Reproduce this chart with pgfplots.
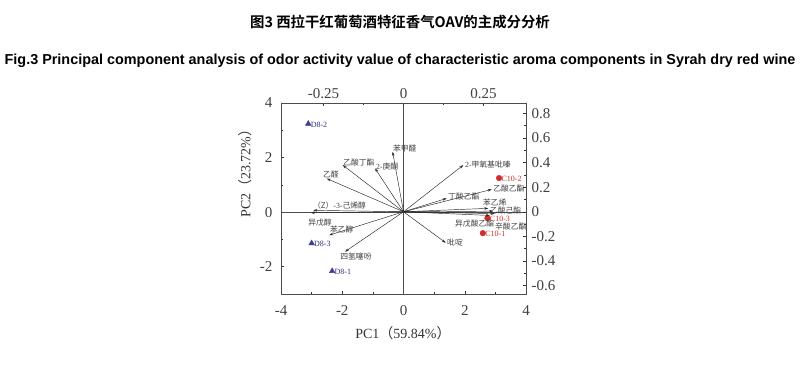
\documentclass[border=0pt]{standalone}
\usepackage{fontspec}
\setmainfont{Liberation Serif}
\newfontfamily\cjk{Noto Sans CJK SC}[BoldFont={Noto Sans CJK SC Bold}]
\newfontfamily\titlesans{Liberation Sans}
\usepackage{pgfplots}
\usepackage{pgfplotstable}
\pgfplotsset{compat=1.18}
\usetikzlibrary{arrows.meta}
\definecolor{tri}{HTML}{3C3C96}
\definecolor{dot}{HTML}{D42A2A}
\pgfplotstableread{
lx ly
-0.034 0.488
-0.089 0.353
-0.190 0.380
-0.240 0.270
-0.282 0.012
-0.290 -0.008
-0.232 -0.190
-0.183 -0.325
0.132 -0.252
0.187 0.380
0.276 0.182
0.135 0.109
0.265 0.028
0.280 0.005
0.285 -0.015
0.270 -0.030
}\loadings
\pgfplotstableread{
x y label
-3.11 3.24 D8-2
-3.00 -1.14 D8-3
-2.33 -2.16 D8-1
}\dgroup
\pgfplotstableread{
x y label
3.12 1.25 C10-2
2.74 -0.22 C10-3
2.59 -0.77 C10-1
}\cgroup
\begin{document}
\begin{tikzpicture}[x=1pt,y=1pt]
\useasboundingbox (0,0) rectangle (800,364);
\fill[white] (0,0) rectangle (800,364);
\node[font=\cjk\bfseries\fontsize{14.4}{16}\selectfont] at (400,342) {图3 西拉干红葡萄酒特征香气OAV的主成分分析};
\node[font=\titlesans\bfseries\fontsize{14.4}{16}\selectfont] at (400,303) {Fig.3 Principal component analysis of odor activity value of characteristic aroma components in Syrah dry red wine};
\begin{axis}[
  at={(281pt,70pt)}, anchor=south west,
  scale only axis, width=245pt, height=191pt,
  xmin=-4, xmax=4, ymin=-3, ymax=4,
  xtick={-4,-2,0,2,4}, xticklabels={-4,-2,0,2,4},
  minor xtick={-3,-1,1,3},
  ytick={-2,0,2,4}, yticklabels={-2,0,2,4},
  minor ytick={-3,-1,1,3},
  xtick pos=bottom, ytick pos=left,
  tick align=inside, major tick length=3pt, minor tick length=2pt,
  tick style={black!80, line width=0.5pt},
  axis line style={black!70, line width=0.6pt},
  ticklabel style={font=\fontsize{15}{17}\selectfont, text=black!75},
  xticklabel style={yshift=-8pt},
  yticklabel style={xshift=-5pt},
  clip=false,
]
\draw[black!70, line width=0.6pt] (axis cs:-4,0) -- (axis cs:4,0);
\draw[black!70, line width=0.6pt] (axis cs:0,-3) -- (axis cs:0,4);
\addplot[only marks, mark=triangle*, mark size=3.2pt, color=tri,
  nodes near coords, point meta=explicit symbolic,
  every node near coord/.style={anchor=west, font=\fontsize{8}{9}\selectfont, text=tri!80!black, xshift=-1pt, yshift=-1pt}]
  table[meta=label] {\dgroup};
\addplot[only marks, mark=*, mark size=2.8pt, color=dot,
  nodes near coords, point meta=explicit symbolic,
  every node near coord/.style={anchor=west, font=\fontsize{8}{9}\selectfont, text=dot, xshift=-1pt, yshift=-1pt}]
  table[meta=label] {\cgroup};
\end{axis}
\begin{axis}[
  at={(281pt,70pt)}, anchor=south west,
  scale only axis, width=245pt, height=191pt,
  xmin=-0.383, xmax=0.383, ymin=-0.669, ymax=0.885,
  xtick={-0.25,0,0.25}, xticklabels={-0.25,0,0.25},
  minor xtick={-0.125,0.125},
  ytick={-0.6,-0.4,-0.2,0,0.2,0.4,0.6,0.8},
  yticklabels={-0.6,-0.4,-0.2,0,0.2,0.4,0.6,0.8},
  minor ytick={-0.5,-0.3,-0.1,0.1,0.3,0.5,0.7},
  xtick pos=top, ytick pos=right,
  tick align=inside, major tick length=3pt, minor tick length=2pt,
  tick style={black!80, line width=0.5pt},
  axis line style={black!70, line width=0.6pt},
  ticklabel style={font=\fontsize{15}{17}\selectfont, text=black!75},
  xticklabel style={yshift=1pt},
  yticklabel style={xshift=2pt},
  clip=false,
]
\addplot[black!85, line width=0.45pt, -{Stealth[length=4pt,width=2.6pt]},
  quiver={u=\thisrow{lx}, v=\thisrow{ly}}]
  table[x expr=0, y expr=0] {\loadings};
\begin{scope}[every node/.style={anchor=west, inner sep=0pt, text=black!75, font=\cjk\fontsize{7.8}{9}\selectfont}]
\node at (axis cs:-0.033,0.518) {苯甲醛};
\node at (axis cs:-0.086,0.372) {{\rmfamily 2-}庚酮};
\node at (axis cs:-0.189,0.404) {乙酸丁酯};
\node at (axis cs:-0.252,0.307) {乙醛};
\node at (axis cs:-0.283,0.054) {（Z）{\rmfamily -3-}己烯醇};
\node at (axis cs:-0.298,-0.084) {异戊醇};
\node at (axis cs:-0.230,-0.141) {苯乙醇};
\node at (axis cs:-0.198,-0.360) {四氢噻吩};
\node at (axis cs:0.136,-0.254) {吡啶};
\node at (axis cs:0.192,0.388) {{\rmfamily 2-}甲氧基吡嗪};
\node at (axis cs:0.280,0.185) {乙酸乙酯};
\node at (axis cs:0.139,0.120) {丁酸乙酯};
\node at (axis cs:0.248,0.079) {苯乙烯};
\node at (axis cs:0.270,0.012) {乙酸己酯};
\node at (axis cs:0.161,-0.100) {异戊酸乙酯};
\node at (axis cs:0.286,-0.116) {辛酸乙酯};
\end{scope}
\end{axis}
\node[font=\fontsize{14}{16}\selectfont, text=black!80] at (403,31) {PC1{\cjk（}59.84\%{\cjk）}};
\node[font=\fontsize{14}{16}\selectfont, text=black!80, rotate=90] at (245,194) {PC2{\cjk（}23.72\%{\cjk）}};
\end{tikzpicture}
\end{document}
